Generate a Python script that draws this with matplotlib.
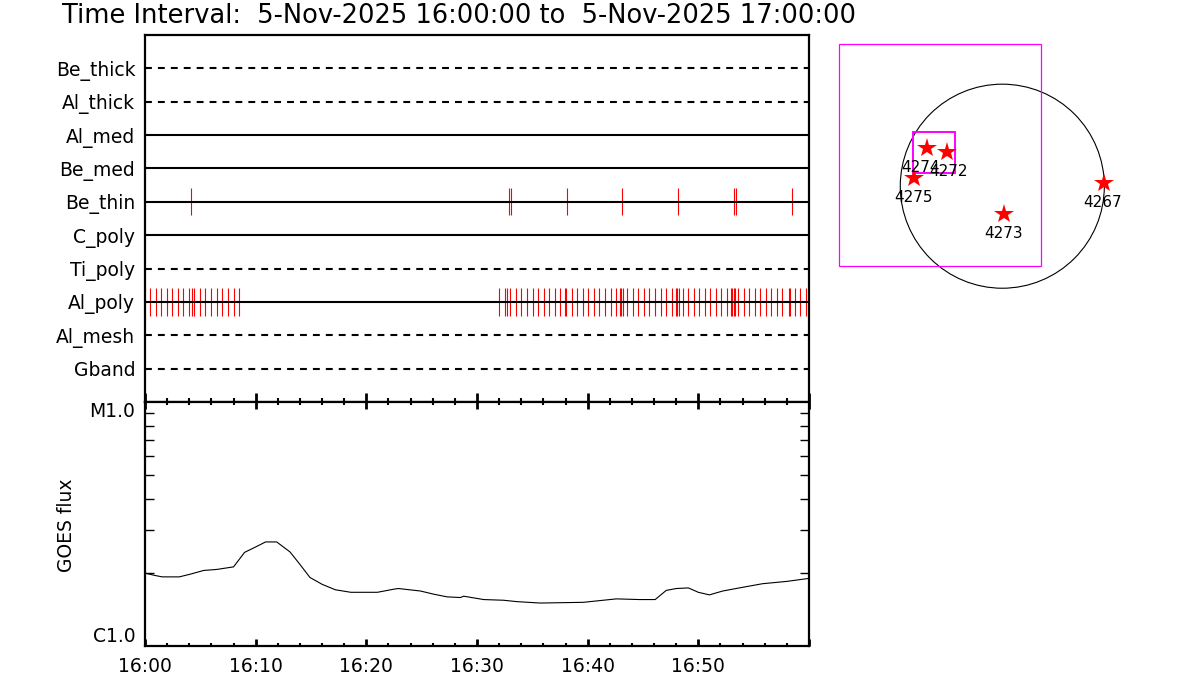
import matplotlib
matplotlib.use("Agg")
import matplotlib.pyplot as plt
from matplotlib.ticker import FixedLocator, NullFormatter, FixedFormatter
from matplotlib.patches import Circle, Rectangle

plt.rcParams['font.family'] = ['DejaVu Sans']

# ---------------- data ----------------
title = "Time Interval:  5-Nov-2025 16:00:00 to  5-Nov-2025 17:00:00"

channels = ["Be_thick", "Al_thick", "Al_med", "Be_med", "Be_thin",
            "C_poly", "Ti_poly", "Al_poly", "Al_mesh", "Gband"]
channel_dashed = [True, True, False, False, False, False, True, False, True, True]

# observation times (minutes after 16:00)
be_thin_times = [4.2, 32.9, 33.1, 38.1, 43.1, 48.2, 53.2, 53.4, 58.5]
al_poly_times = [0.44, 0.95, 1.46, 1.97, 2.45, 2.96, 3.44, 3.99, 4.23, 4.47,
                 4.95, 5.43, 5.94, 6.48, 6.96, 7.48, 8.02, 8.50,
                 32.02, 32.57, 32.69, 33.02, 33.53, 34.01, 34.55, 35.03, 35.54,
                 36.06, 36.54, 37.05, 37.53, 37.98, 38.07, 38.55, 39.06, 39.58,
                 40.06, 40.57, 41.05, 41.56, 42.07, 42.55, 42.94, 43.03, 43.15,
                 43.58, 44.06, 44.57, 45.05, 45.56, 46.07, 46.59, 47.07, 47.58,
                 48.00, 48.09, 48.21, 48.57, 49.08, 49.59, 50.07, 50.58, 51.07,
                 51.58, 52.09, 52.60, 52.96, 53.08, 53.20, 53.32, 53.59, 54.10,
                 54.58, 55.09, 55.61, 56.09, 56.60, 57.11, 57.59, 58.19, 58.28,
                 58.70, 59.21, 59.69]

goes_minutes = [0.0, 0.8, 1.55, 3.1, 4.1, 5.3, 6.5, 8.0, 9.0, 9.8, 10.9, 11.9,
                13.1, 14.0, 14.9, 16.0, 17.2, 18.6, 21.0, 22.5, 22.9, 24.9,
                26.1, 27.3, 28.5, 28.8, 30.6, 32.4, 33.6, 35.7, 39.6, 42.6,
                44.7, 46.1, 47.1, 48.0, 49.1, 50.0, 51.0, 52.2, 53.7, 55.8,
                58.0, 59.9]
goes_flux = [1.99e-6, 1.95e-6, 1.92e-6, 1.92e-6, 1.97e-6, 2.04e-6, 2.06e-6,
             2.11e-6, 2.42e-6, 2.52e-6, 2.67e-6, 2.67e-6, 2.43e-6, 2.16e-6,
             1.91e-6, 1.79e-6, 1.70e-6, 1.66e-6, 1.66e-6, 1.71e-6, 1.72e-6,
             1.68e-6, 1.63e-6, 1.59e-6, 1.58e-6, 1.60e-6, 1.55e-6, 1.54e-6,
             1.52e-6, 1.50e-6, 1.51e-6, 1.56e-6, 1.55e-6, 1.55e-6, 1.69e-6,
             1.72e-6, 1.73e-6, 1.66e-6, 1.62e-6, 1.68e-6, 1.73e-6, 1.80e-6,
             1.84e-6, 1.89e-6]

time_ticks = [0, 10, 20, 30, 40, 50]
time_labels = ["16:00", "16:10", "16:20", "16:30", "16:40", "16:50"]
flux_ticks = [1e-6, 1e-5]
flux_labels = ["C1.0", "M1.0"]

# active regions (solar x, y in arcsec)
ar_numbers = ["4274", "4272", "4275", "4273", "4267"]
ar_x = [-712, -528, -838, 16, 965]
ar_y = [365, 322, 81, -264, 28]
sun_radius = 968
fov_large = [-1551, -760, 370, 1346]   # x0, y0, x1, y1
fov_small = [-844, 125, -446, 517]

# ---------------- figure ----------------
W, H = 1200, 700
fig = plt.figure(figsize=(12, 7), dpi=100)

def px_axes(x0, y0, x1, y1):
    return fig.add_axes([x0 / W, 1 - y1 / H, (x1 - x0) / W, (y1 - y0) / H])

FS = 13.5
SPW = 1.6

# --- top panel: filter channels ---
ax1 = px_axes(145, 35, 809, 402)
ax1.set_xlim(0, 60)
ax1.set_ylim(len(channels) + 1, 0)
ypos = list(range(1, len(channels) + 1))
for y, name, dashed in zip(ypos, channels, channel_dashed):
    if dashed:
        ax1.axhline(y, color='black', lw=1.5, linestyle=(0, (3.3, 2.9)), zorder=3)
    else:
        ax1.axhline(y, color='black', lw=1.5, zorder=3)
ybt = ypos[channels.index("Be_thin")]
yap = ypos[channels.index("Al_poly")]
ax1.vlines(be_thin_times, ybt - 0.41, ybt + 0.41, color='red', lw=0.8, zorder=2)
ax1.vlines(al_poly_times, yap - 0.41, yap + 0.41, color='red', lw=0.8, zorder=2)
ax1.set_yticks(ypos)
ax1.set_yticklabels(channels, fontsize=FS)
ax1.tick_params(axis='y', length=0, pad=7)
ax1.xaxis.set_major_locator(FixedLocator(list(range(0, 61, 10))))
ax1.xaxis.set_minor_locator(FixedLocator(list(range(0, 61, 2))))
ax1.xaxis.set_major_formatter(NullFormatter())
ax1.tick_params(axis='x', which='major', direction='in', length=6.5, width=2.0,
                bottom=True, top=False)
ax1.tick_params(axis='x', which='minor', direction='in', length=3.0, width=1.5,
                bottom=True, top=False)
for s in ax1.spines.values():
    s.set_linewidth(SPW)

# --- GOES panel ---
ax2 = px_axes(145, 402, 809, 646)
ax2.plot(goes_minutes, goes_flux, color='black', lw=0.8)
ax2.set_yscale('log')
ax2.set_ylim(1e-6, 1e-5)
ax2.set_xlim(0, 60)
ax2.yaxis.set_major_locator(FixedLocator(flux_ticks))
ax2.yaxis.set_major_formatter(FixedFormatter(flux_labels))
ax2.yaxis.set_minor_locator(FixedLocator([k * 1e-6 for k in range(2, 10)]))
ax2.yaxis.set_minor_formatter(NullFormatter())
ax2.tick_params(axis='y', which='major', length=0, pad=7, labelsize=FS)
ax2.tick_params(axis='y', which='minor', direction='in', length=6.5, width=1.0,
                left=True, right=True)
labs = ax2.get_yticklabels()
labs[0].set_verticalalignment('bottom')
labs[1].set_verticalalignment('top')
ax2.xaxis.set_major_locator(FixedLocator(time_ticks + [60]))
ax2.xaxis.set_major_formatter(FixedFormatter(time_labels + [""]))
ax2.xaxis.set_minor_locator(FixedLocator(list(range(0, 61, 2))))
ax2.tick_params(axis='x', which='major', direction='in', length=5, width=2.0,
                top=True, bottom=True, labelsize=FS, pad=8)
ax2.tick_params(axis='x', which='minor', direction='in', length=2.5, width=1.5,
                top=True, bottom=True)
for s in ax2.spines.values():
    s.set_linewidth(SPW)
fig.text(67 / W, 1 - 525 / H, "GOES flux", rotation=90, fontsize=FS,
         ha='center', va='center')

# --- title ---
fig.text(62 / W, 1 - 16 / H, title, fontsize=18.5, ha='left', va='center')

# --- solar disk panel ---
scale = 0.1054  # px per arcsec
cx, cy = 1002.3, 186.2
bx0, by0, bx1, by1 = 830, 30, 1140, 300
ax3 = px_axes(bx0, by0, bx1, by1)
ax3.set_xlim((bx0 - cx) / scale, (bx1 - cx) / scale)
ax3.set_ylim((cy - by1) / scale, (cy - by0) / scale)
ax3.axis('off')
ax3.add_patch(Circle((0, 0), sun_radius, fill=False, ec='black', lw=0.8))
ax3.add_patch(Rectangle((fov_large[0], fov_large[1]), fov_large[2] - fov_large[0],
                        fov_large[3] - fov_large[1], fill=False, ec='#ff00ff', lw=0.9))
ax3.add_patch(Rectangle((fov_small[0], fov_small[1]), fov_small[2] - fov_small[0],
                        fov_small[3] - fov_small[1], fill=False, ec='#ff00ff', lw=1.4))
ax3.plot(ar_x, ar_y, linestyle='none', marker='*', ms=15, color='red', mec='red',
         mew=0, zorder=3)
label_dx = [-5.0, 1.0, -0.5, 0.0, -1.0]
for num, x, y, dx in zip(ar_numbers, ar_x, ar_y, label_dx):
    ax3.annotate(num, (x, y), xytext=(dx, -14.0), textcoords='offset points',
                 ha='center', va='center', fontsize=11, zorder=4,
                 annotation_clip=False)

fig.savefig("out.png", dpi=100)
